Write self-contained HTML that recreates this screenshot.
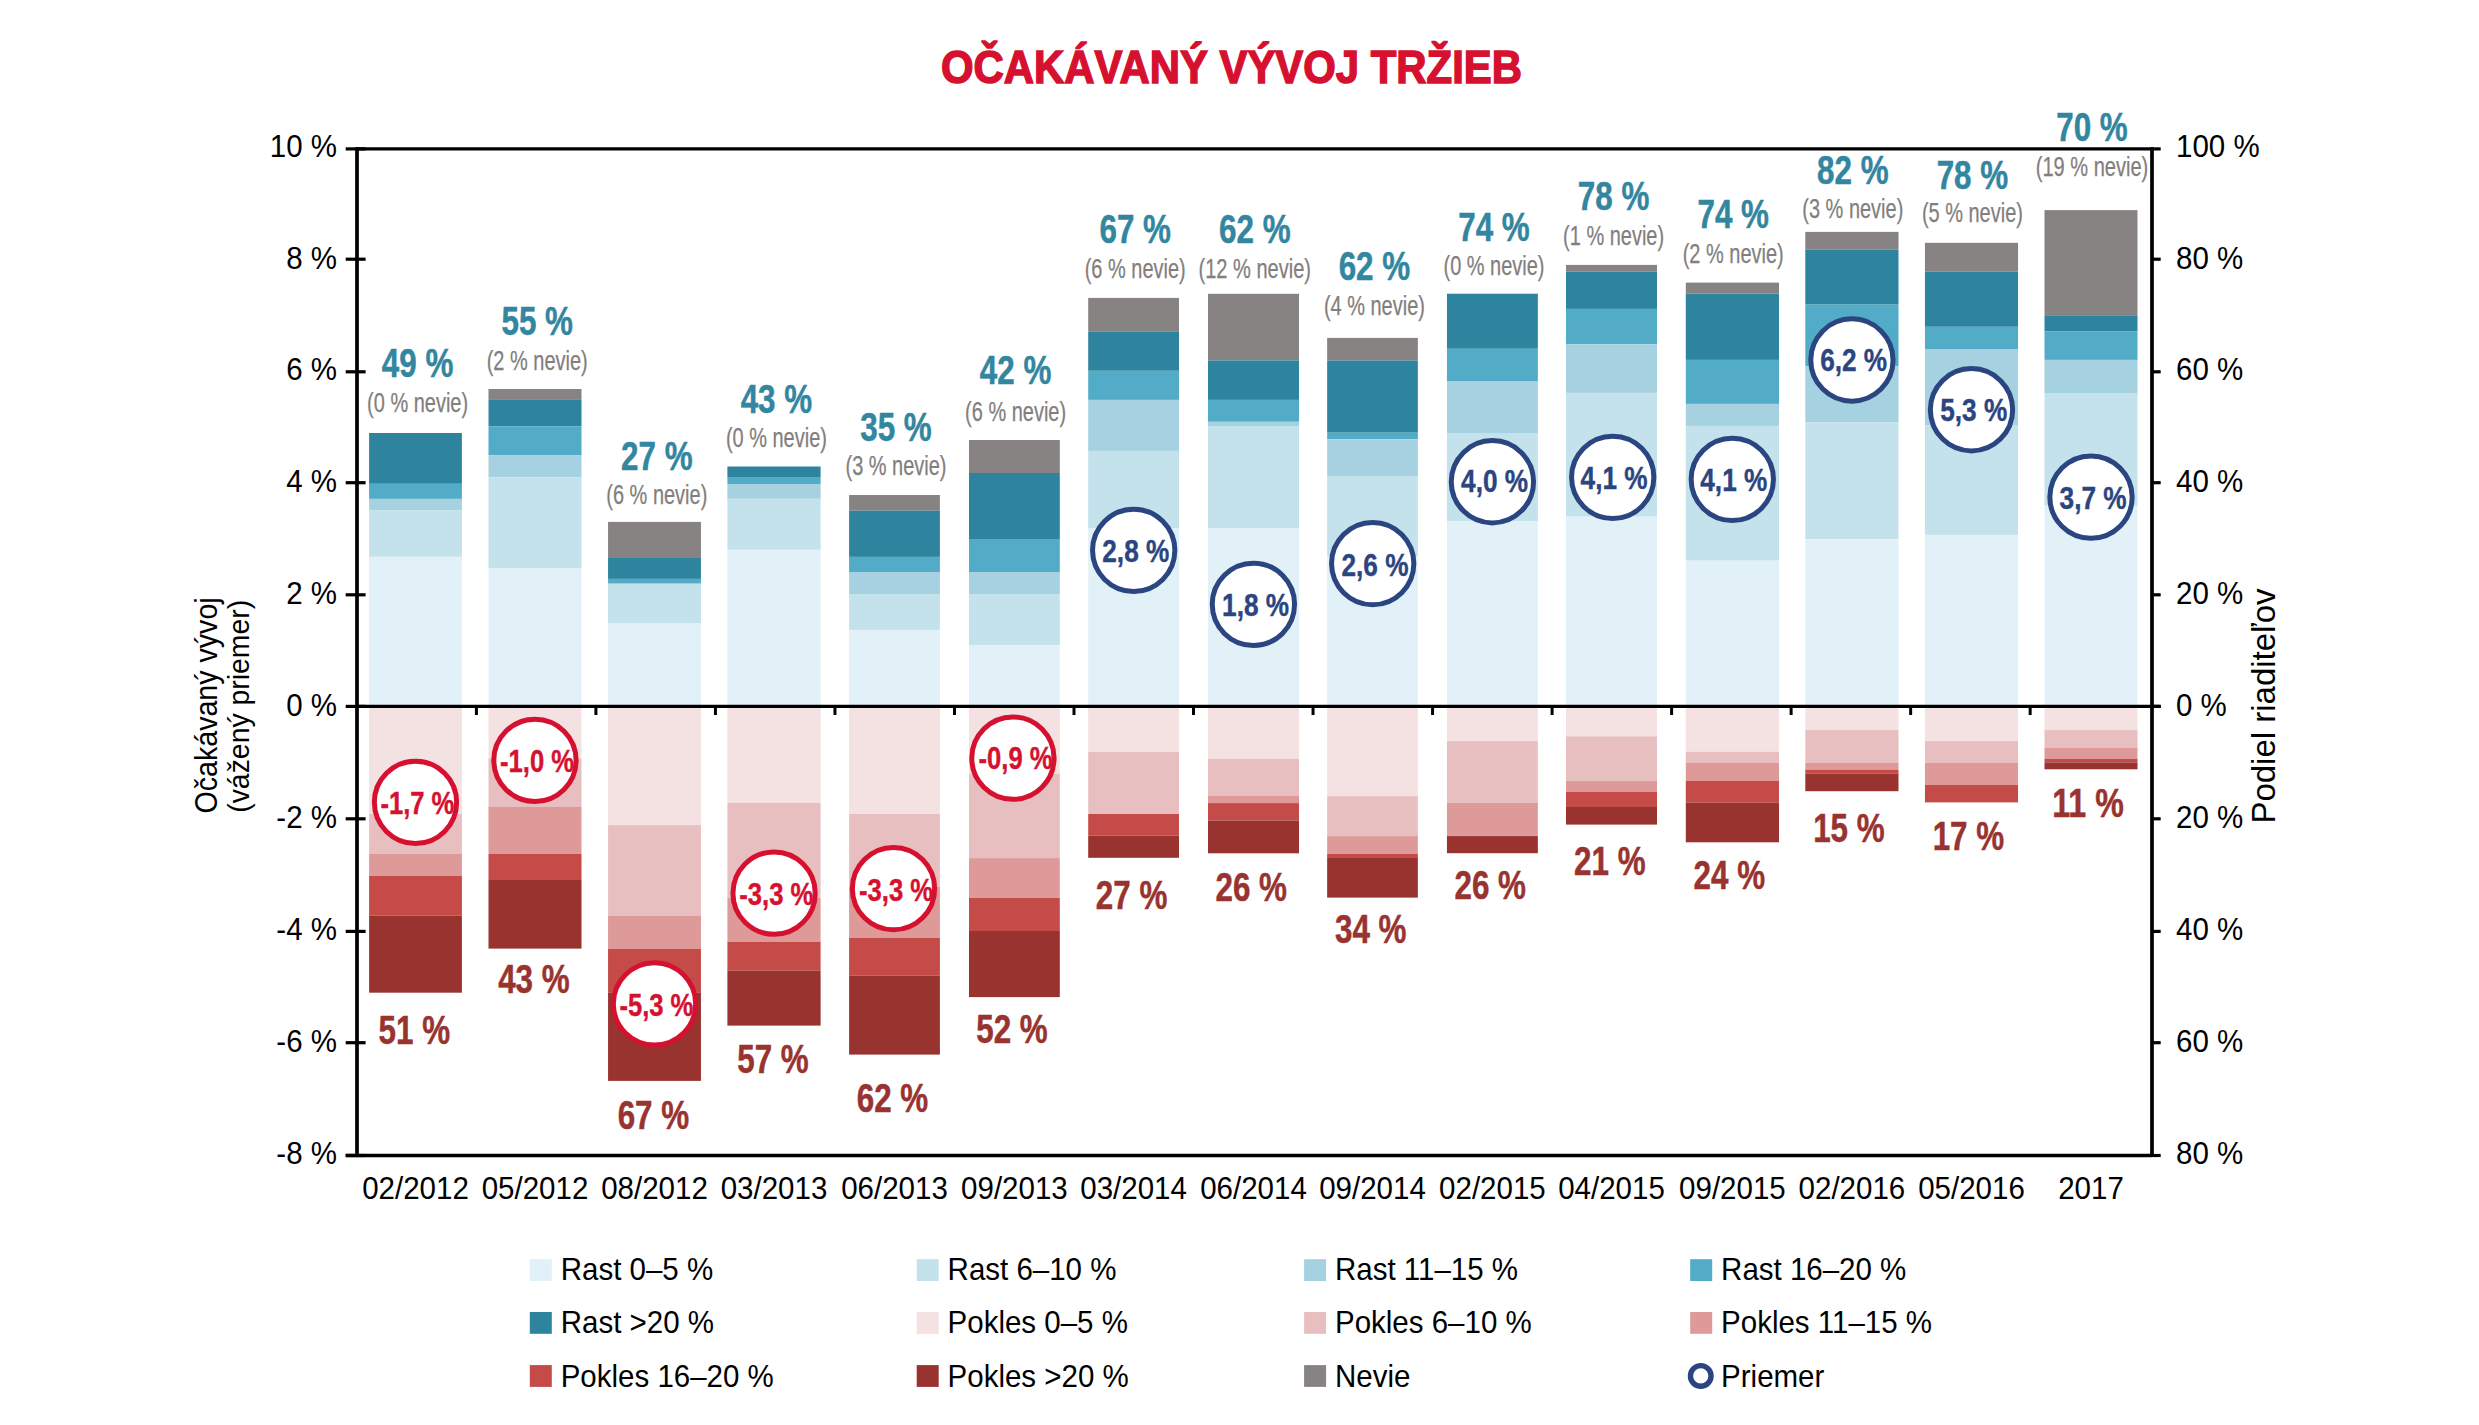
<!DOCTYPE html>
<html><head><meta charset="utf-8"><style>
html,body{margin:0;padding:0;background:#fff;}
body{width:2479px;height:1425px;overflow:hidden;}
svg{display:block;}
text{font-family:"Liberation Sans",sans-serif;}
</style></head><body>
<svg width="2479" height="1425" viewBox="0 0 2479 1425">
<rect width="2479" height="1425" fill="#fff"/>
<rect x="369.10" y="433.00" width="92.80" height="50.80" fill="#2e849e"/>
<rect x="369.10" y="483.80" width="92.80" height="15.10" fill="#52acc8"/>
<rect x="369.10" y="498.90" width="92.80" height="11.20" fill="#a5d1e0"/>
<rect x="369.10" y="510.10" width="92.80" height="46.70" fill="#c4e2eb"/>
<rect x="369.10" y="556.80" width="92.80" height="149.60" fill="#e2f1f8"/>
<rect x="369.10" y="706.40" width="92.80" height="107.40" fill="#f4e1e2"/>
<rect x="369.10" y="813.80" width="92.80" height="40.20" fill="#e8bfc0"/>
<rect x="369.10" y="854.00" width="92.80" height="21.80" fill="#dd9a98"/>
<rect x="369.10" y="875.80" width="92.80" height="39.80" fill="#c44b48"/>
<rect x="369.10" y="915.60" width="92.80" height="77.10" fill="#993330"/>
<rect x="488.50" y="389.00" width="93.00" height="10.90" fill="#878382"/>
<rect x="488.50" y="399.90" width="93.00" height="26.30" fill="#2e849e"/>
<rect x="488.50" y="426.20" width="93.00" height="28.90" fill="#52acc8"/>
<rect x="488.50" y="455.10" width="93.00" height="22.10" fill="#a5d1e0"/>
<rect x="488.50" y="477.20" width="93.00" height="90.80" fill="#c4e2eb"/>
<rect x="488.50" y="568.00" width="93.00" height="138.40" fill="#e2f1f8"/>
<rect x="488.50" y="706.40" width="93.00" height="52.00" fill="#f4e1e2"/>
<rect x="488.50" y="758.40" width="93.00" height="48.60" fill="#e8bfc0"/>
<rect x="488.50" y="807.00" width="93.00" height="47.00" fill="#dd9a98"/>
<rect x="488.50" y="854.00" width="93.00" height="26.00" fill="#c44b48"/>
<rect x="488.50" y="880.00" width="93.00" height="68.60" fill="#993330"/>
<rect x="608.05" y="521.90" width="92.90" height="35.30" fill="#878382"/>
<rect x="608.05" y="557.20" width="92.90" height="21.70" fill="#2e849e"/>
<rect x="608.05" y="578.90" width="92.90" height="4.80" fill="#52acc8"/>
<rect x="608.05" y="583.70" width="92.90" height="39.30" fill="#c4e2eb"/>
<rect x="608.05" y="623.00" width="92.90" height="83.40" fill="#e2f1f8"/>
<rect x="608.05" y="706.40" width="92.90" height="118.70" fill="#f4e1e2"/>
<rect x="608.05" y="825.10" width="92.90" height="90.80" fill="#e8bfc0"/>
<rect x="608.05" y="915.90" width="92.90" height="33.10" fill="#dd9a98"/>
<rect x="608.05" y="949.00" width="92.90" height="43.80" fill="#c44b48"/>
<rect x="608.05" y="992.80" width="92.90" height="88.10" fill="#993330"/>
<rect x="727.40" y="466.50" width="93.20" height="10.50" fill="#2e849e"/>
<rect x="727.40" y="477.00" width="93.20" height="7.00" fill="#52acc8"/>
<rect x="727.40" y="484.00" width="93.20" height="14.80" fill="#a5d1e0"/>
<rect x="727.40" y="498.80" width="93.20" height="51.00" fill="#c4e2eb"/>
<rect x="727.40" y="549.80" width="93.20" height="156.60" fill="#e2f1f8"/>
<rect x="727.40" y="706.40" width="93.20" height="96.50" fill="#f4e1e2"/>
<rect x="727.40" y="802.90" width="93.20" height="94.80" fill="#e8bfc0"/>
<rect x="727.40" y="897.70" width="93.20" height="44.20" fill="#dd9a98"/>
<rect x="727.40" y="941.90" width="93.20" height="28.70" fill="#c44b48"/>
<rect x="727.40" y="970.60" width="93.20" height="55.00" fill="#993330"/>
<rect x="849.10" y="495.00" width="90.80" height="15.70" fill="#878382"/>
<rect x="849.10" y="510.70" width="90.80" height="46.20" fill="#2e849e"/>
<rect x="849.10" y="556.90" width="90.80" height="15.10" fill="#52acc8"/>
<rect x="849.10" y="572.00" width="90.80" height="22.00" fill="#a5d1e0"/>
<rect x="849.10" y="594.00" width="90.80" height="35.90" fill="#c4e2eb"/>
<rect x="849.10" y="629.90" width="90.80" height="76.50" fill="#e2f1f8"/>
<rect x="849.10" y="706.40" width="90.80" height="107.60" fill="#f4e1e2"/>
<rect x="849.10" y="814.00" width="90.80" height="72.90" fill="#e8bfc0"/>
<rect x="849.10" y="886.90" width="90.80" height="50.90" fill="#dd9a98"/>
<rect x="849.10" y="937.80" width="90.80" height="37.70" fill="#c44b48"/>
<rect x="849.10" y="975.50" width="90.80" height="79.10" fill="#993330"/>
<rect x="969.00" y="440.00" width="90.80" height="33.00" fill="#878382"/>
<rect x="969.00" y="473.00" width="90.80" height="66.00" fill="#2e849e"/>
<rect x="969.00" y="539.00" width="90.80" height="33.00" fill="#52acc8"/>
<rect x="969.00" y="572.00" width="90.80" height="22.00" fill="#a5d1e0"/>
<rect x="969.00" y="594.00" width="90.80" height="51.20" fill="#c4e2eb"/>
<rect x="969.00" y="645.20" width="90.80" height="61.20" fill="#e2f1f8"/>
<rect x="969.00" y="706.40" width="90.80" height="67.10" fill="#f4e1e2"/>
<rect x="969.00" y="773.50" width="90.80" height="84.60" fill="#e8bfc0"/>
<rect x="969.00" y="858.10" width="90.80" height="39.90" fill="#dd9a98"/>
<rect x="969.00" y="898.00" width="90.80" height="33.00" fill="#c44b48"/>
<rect x="969.00" y="931.00" width="90.80" height="66.10" fill="#993330"/>
<rect x="1088.20" y="297.90" width="90.80" height="33.50" fill="#878382"/>
<rect x="1088.20" y="331.40" width="90.80" height="39.40" fill="#2e849e"/>
<rect x="1088.20" y="370.80" width="90.80" height="29.10" fill="#52acc8"/>
<rect x="1088.20" y="399.90" width="90.80" height="51.00" fill="#a5d1e0"/>
<rect x="1088.20" y="450.90" width="90.80" height="77.10" fill="#c4e2eb"/>
<rect x="1088.20" y="528.00" width="90.80" height="178.40" fill="#e2f1f8"/>
<rect x="1088.20" y="706.40" width="90.80" height="45.60" fill="#f4e1e2"/>
<rect x="1088.20" y="752.00" width="90.80" height="62.00" fill="#e8bfc0"/>
<rect x="1088.20" y="814.00" width="90.80" height="21.60" fill="#c44b48"/>
<rect x="1088.20" y="835.60" width="90.80" height="22.20" fill="#993330"/>
<rect x="1208.00" y="293.80" width="91.00" height="66.60" fill="#878382"/>
<rect x="1208.00" y="360.40" width="91.00" height="39.50" fill="#2e849e"/>
<rect x="1208.00" y="399.90" width="91.00" height="21.90" fill="#52acc8"/>
<rect x="1208.00" y="421.80" width="91.00" height="4.20" fill="#a5d1e0"/>
<rect x="1208.00" y="426.00" width="91.00" height="102.00" fill="#c4e2eb"/>
<rect x="1208.00" y="528.00" width="91.00" height="178.40" fill="#e2f1f8"/>
<rect x="1208.00" y="706.40" width="91.00" height="52.40" fill="#f4e1e2"/>
<rect x="1208.00" y="758.80" width="91.00" height="37.20" fill="#e8bfc0"/>
<rect x="1208.00" y="796.00" width="91.00" height="7.10" fill="#dd9a98"/>
<rect x="1208.00" y="803.10" width="91.00" height="17.50" fill="#c44b48"/>
<rect x="1208.00" y="820.60" width="91.00" height="32.70" fill="#993330"/>
<rect x="1327.15" y="337.90" width="90.70" height="22.60" fill="#878382"/>
<rect x="1327.15" y="360.50" width="90.70" height="72.20" fill="#2e849e"/>
<rect x="1327.15" y="432.70" width="90.70" height="6.60" fill="#52acc8"/>
<rect x="1327.15" y="439.30" width="90.70" height="37.40" fill="#a5d1e0"/>
<rect x="1327.15" y="476.70" width="90.70" height="79.90" fill="#c4e2eb"/>
<rect x="1327.15" y="556.60" width="90.70" height="149.80" fill="#e2f1f8"/>
<rect x="1327.15" y="706.40" width="90.70" height="89.80" fill="#f4e1e2"/>
<rect x="1327.15" y="796.20" width="90.70" height="39.90" fill="#e8bfc0"/>
<rect x="1327.15" y="836.10" width="90.70" height="17.70" fill="#dd9a98"/>
<rect x="1327.15" y="853.80" width="90.70" height="4.20" fill="#c44b48"/>
<rect x="1327.15" y="858.00" width="90.70" height="39.60" fill="#993330"/>
<rect x="1446.95" y="293.70" width="90.90" height="55.10" fill="#2e849e"/>
<rect x="1446.95" y="348.80" width="90.90" height="32.80" fill="#52acc8"/>
<rect x="1446.95" y="381.60" width="90.90" height="51.40" fill="#a5d1e0"/>
<rect x="1446.95" y="433.00" width="90.90" height="88.20" fill="#c4e2eb"/>
<rect x="1446.95" y="521.20" width="90.90" height="185.20" fill="#e2f1f8"/>
<rect x="1446.95" y="706.40" width="90.90" height="34.70" fill="#f4e1e2"/>
<rect x="1446.95" y="741.10" width="90.90" height="61.70" fill="#e8bfc0"/>
<rect x="1446.95" y="802.80" width="90.90" height="33.30" fill="#dd9a98"/>
<rect x="1446.95" y="836.10" width="90.90" height="17.10" fill="#993330"/>
<rect x="1566.00" y="264.90" width="91.00" height="6.70" fill="#878382"/>
<rect x="1566.00" y="271.60" width="91.00" height="37.30" fill="#2e849e"/>
<rect x="1566.00" y="308.90" width="91.00" height="35.30" fill="#52acc8"/>
<rect x="1566.00" y="344.20" width="91.00" height="48.70" fill="#a5d1e0"/>
<rect x="1566.00" y="392.90" width="91.00" height="123.80" fill="#c4e2eb"/>
<rect x="1566.00" y="516.70" width="91.00" height="189.70" fill="#e2f1f8"/>
<rect x="1566.00" y="706.40" width="91.00" height="29.90" fill="#f4e1e2"/>
<rect x="1566.00" y="736.30" width="91.00" height="44.70" fill="#e8bfc0"/>
<rect x="1566.00" y="781.00" width="91.00" height="10.90" fill="#dd9a98"/>
<rect x="1566.00" y="791.90" width="91.00" height="15.10" fill="#c44b48"/>
<rect x="1566.00" y="807.00" width="91.00" height="17.60" fill="#993330"/>
<rect x="1685.80" y="282.60" width="93.20" height="11.00" fill="#878382"/>
<rect x="1685.80" y="293.60" width="93.20" height="66.30" fill="#2e849e"/>
<rect x="1685.80" y="359.90" width="93.20" height="44.00" fill="#52acc8"/>
<rect x="1685.80" y="403.90" width="93.20" height="22.00" fill="#a5d1e0"/>
<rect x="1685.80" y="425.90" width="93.20" height="134.80" fill="#c4e2eb"/>
<rect x="1685.80" y="560.70" width="93.20" height="145.70" fill="#e2f1f8"/>
<rect x="1685.80" y="706.40" width="93.20" height="45.40" fill="#f4e1e2"/>
<rect x="1685.80" y="751.80" width="93.20" height="11.20" fill="#e8bfc0"/>
<rect x="1685.80" y="763.00" width="93.20" height="17.90" fill="#dd9a98"/>
<rect x="1685.80" y="780.90" width="93.20" height="21.80" fill="#c44b48"/>
<rect x="1685.80" y="802.70" width="93.20" height="39.60" fill="#993330"/>
<rect x="1805.30" y="231.90" width="93.20" height="17.80" fill="#878382"/>
<rect x="1805.30" y="249.70" width="93.20" height="54.90" fill="#2e849e"/>
<rect x="1805.30" y="304.60" width="93.20" height="61.80" fill="#52acc8"/>
<rect x="1805.30" y="366.40" width="93.20" height="55.70" fill="#a5d1e0"/>
<rect x="1805.30" y="422.10" width="93.20" height="117.10" fill="#c4e2eb"/>
<rect x="1805.30" y="539.20" width="93.20" height="167.20" fill="#e2f1f8"/>
<rect x="1805.30" y="706.40" width="93.20" height="23.70" fill="#f4e1e2"/>
<rect x="1805.30" y="730.10" width="93.20" height="32.80" fill="#e8bfc0"/>
<rect x="1805.30" y="762.90" width="93.20" height="6.80" fill="#dd9a98"/>
<rect x="1805.30" y="769.70" width="93.20" height="3.90" fill="#c44b48"/>
<rect x="1805.30" y="773.60" width="93.20" height="17.60" fill="#993330"/>
<rect x="1924.95" y="242.80" width="93.10" height="28.70" fill="#878382"/>
<rect x="1924.95" y="271.50" width="93.10" height="55.30" fill="#2e849e"/>
<rect x="1924.95" y="326.80" width="93.10" height="22.20" fill="#52acc8"/>
<rect x="1924.95" y="349.00" width="93.10" height="76.60" fill="#a5d1e0"/>
<rect x="1924.95" y="425.60" width="93.10" height="109.30" fill="#c4e2eb"/>
<rect x="1924.95" y="534.90" width="93.10" height="171.50" fill="#e2f1f8"/>
<rect x="1924.95" y="706.40" width="93.10" height="34.70" fill="#f4e1e2"/>
<rect x="1924.95" y="741.10" width="93.10" height="21.80" fill="#e8bfc0"/>
<rect x="1924.95" y="762.90" width="93.10" height="22.10" fill="#dd9a98"/>
<rect x="1924.95" y="785.00" width="93.10" height="17.40" fill="#c44b48"/>
<rect x="2044.50" y="210.10" width="93.00" height="105.80" fill="#878382"/>
<rect x="2044.50" y="315.90" width="93.00" height="15.30" fill="#2e849e"/>
<rect x="2044.50" y="331.20" width="93.00" height="28.70" fill="#52acc8"/>
<rect x="2044.50" y="359.90" width="93.00" height="33.10" fill="#a5d1e0"/>
<rect x="2044.50" y="393.00" width="93.00" height="112.70" fill="#c4e2eb"/>
<rect x="2044.50" y="505.70" width="93.00" height="200.70" fill="#e2f1f8"/>
<rect x="2044.50" y="706.40" width="93.00" height="23.70" fill="#f4e1e2"/>
<rect x="2044.50" y="730.10" width="93.00" height="17.50" fill="#e8bfc0"/>
<rect x="2044.50" y="747.60" width="93.00" height="11.10" fill="#dd9a98"/>
<rect x="2044.50" y="758.70" width="93.00" height="3.70" fill="#c44b48"/>
<rect x="2044.50" y="762.40" width="93.00" height="6.90" fill="#993330"/>
<line x1="357" y1="148.9" x2="2152" y2="148.9" stroke="#000" stroke-width="3.4"/>
<line x1="345.7" y1="1155.5" x2="2152" y2="1155.5" stroke="#000" stroke-width="3.4"/>
<line x1="357" y1="147.2" x2="357" y2="1157" stroke="#000" stroke-width="3.7"/>
<line x1="2152" y1="147.2" x2="2152" y2="1157" stroke="#000" stroke-width="3.7"/>
<line x1="357" y1="706.4" x2="2160.7" y2="706.4" stroke="#000" stroke-width="3.1"/>
<line x1="476.40" y1="706.4" x2="476.40" y2="715" stroke="#000" stroke-width="3"/>
<line x1="595.92" y1="706.4" x2="595.92" y2="715" stroke="#000" stroke-width="3"/>
<line x1="715.44" y1="706.4" x2="715.44" y2="715" stroke="#000" stroke-width="3"/>
<line x1="834.96" y1="706.4" x2="834.96" y2="715" stroke="#000" stroke-width="3"/>
<line x1="954.48" y1="706.4" x2="954.48" y2="715" stroke="#000" stroke-width="3"/>
<line x1="1074.00" y1="706.4" x2="1074.00" y2="715" stroke="#000" stroke-width="3"/>
<line x1="1193.52" y1="706.4" x2="1193.52" y2="715" stroke="#000" stroke-width="3"/>
<line x1="1313.04" y1="706.4" x2="1313.04" y2="715" stroke="#000" stroke-width="3"/>
<line x1="1432.56" y1="706.4" x2="1432.56" y2="715" stroke="#000" stroke-width="3"/>
<line x1="1552.08" y1="706.4" x2="1552.08" y2="715" stroke="#000" stroke-width="3"/>
<line x1="1671.60" y1="706.4" x2="1671.60" y2="715" stroke="#000" stroke-width="3"/>
<line x1="1791.12" y1="706.4" x2="1791.12" y2="715" stroke="#000" stroke-width="3"/>
<line x1="1910.64" y1="706.4" x2="1910.64" y2="715" stroke="#000" stroke-width="3"/>
<line x1="2030.16" y1="706.4" x2="2030.16" y2="715" stroke="#000" stroke-width="3"/>
<line x1="345.7" y1="148.9" x2="365.6" y2="148.9" stroke="#000" stroke-width="3.2"/>
<line x1="2152" y1="148.9" x2="2160.7" y2="148.9" stroke="#000" stroke-width="3.2"/>
<line x1="345.7" y1="259.2" x2="365.6" y2="259.2" stroke="#000" stroke-width="3.2"/>
<line x1="2152" y1="259.2" x2="2160.7" y2="259.2" stroke="#000" stroke-width="3.2"/>
<line x1="345.7" y1="371.8" x2="365.6" y2="371.8" stroke="#000" stroke-width="3.2"/>
<line x1="2152" y1="371.8" x2="2160.7" y2="371.8" stroke="#000" stroke-width="3.2"/>
<line x1="345.7" y1="482.7" x2="365.6" y2="482.7" stroke="#000" stroke-width="3.2"/>
<line x1="2152" y1="482.7" x2="2160.7" y2="482.7" stroke="#000" stroke-width="3.2"/>
<line x1="345.7" y1="594.8" x2="365.6" y2="594.8" stroke="#000" stroke-width="3.2"/>
<line x1="2152" y1="594.8" x2="2160.7" y2="594.8" stroke="#000" stroke-width="3.2"/>
<line x1="345.7" y1="706.4" x2="365.6" y2="706.4" stroke="#000" stroke-width="3.2"/>
<line x1="2152" y1="706.4" x2="2160.7" y2="706.4" stroke="#000" stroke-width="3.2"/>
<line x1="345.7" y1="818.8" x2="365.6" y2="818.8" stroke="#000" stroke-width="3.2"/>
<line x1="2152" y1="818.8" x2="2160.7" y2="818.8" stroke="#000" stroke-width="3.2"/>
<line x1="345.7" y1="931.4" x2="365.6" y2="931.4" stroke="#000" stroke-width="3.2"/>
<line x1="2152" y1="931.4" x2="2160.7" y2="931.4" stroke="#000" stroke-width="3.2"/>
<line x1="345.7" y1="1042.7" x2="365.6" y2="1042.7" stroke="#000" stroke-width="3.2"/>
<line x1="2152" y1="1042.7" x2="2160.7" y2="1042.7" stroke="#000" stroke-width="3.2"/>
<line x1="345.7" y1="1155.5" x2="365.6" y2="1155.5" stroke="#000" stroke-width="3.2"/>
<line x1="2152" y1="1155.5" x2="2160.7" y2="1155.5" stroke="#000" stroke-width="3.2"/>
<text transform="translate(337.00,156.60) scale(1,1.05)" font-family="Liberation Sans, sans-serif" font-size="29.5" text-anchor="end" >10 %</text>
<text transform="translate(2176.00,156.60) scale(1,1.05)" font-family="Liberation Sans, sans-serif" font-size="29.5" text-anchor="start" >100 %</text>
<text transform="translate(337.00,268.50) scale(1,1.05)" font-family="Liberation Sans, sans-serif" font-size="29.5" text-anchor="end" >8 %</text>
<text transform="translate(2176.00,268.50) scale(1,1.05)" font-family="Liberation Sans, sans-serif" font-size="29.5" text-anchor="start" >80 %</text>
<text transform="translate(337.00,380.40) scale(1,1.05)" font-family="Liberation Sans, sans-serif" font-size="29.5" text-anchor="end" >6 %</text>
<text transform="translate(2176.00,380.40) scale(1,1.05)" font-family="Liberation Sans, sans-serif" font-size="29.5" text-anchor="start" >60 %</text>
<text transform="translate(337.00,492.30) scale(1,1.05)" font-family="Liberation Sans, sans-serif" font-size="29.5" text-anchor="end" >4 %</text>
<text transform="translate(2176.00,492.30) scale(1,1.05)" font-family="Liberation Sans, sans-serif" font-size="29.5" text-anchor="start" >40 %</text>
<text transform="translate(337.00,604.20) scale(1,1.05)" font-family="Liberation Sans, sans-serif" font-size="29.5" text-anchor="end" >2 %</text>
<text transform="translate(2176.00,604.20) scale(1,1.05)" font-family="Liberation Sans, sans-serif" font-size="29.5" text-anchor="start" >20 %</text>
<text transform="translate(337.00,716.10) scale(1,1.05)" font-family="Liberation Sans, sans-serif" font-size="29.5" text-anchor="end" >0 %</text>
<text transform="translate(2176.00,716.10) scale(1,1.05)" font-family="Liberation Sans, sans-serif" font-size="29.5" text-anchor="start" >0 %</text>
<text transform="translate(337.00,828.00) scale(1,1.05)" font-family="Liberation Sans, sans-serif" font-size="29.5" text-anchor="end" >-2 %</text>
<text transform="translate(2176.00,828.00) scale(1,1.05)" font-family="Liberation Sans, sans-serif" font-size="29.5" text-anchor="start" >20 %</text>
<text transform="translate(337.00,939.90) scale(1,1.05)" font-family="Liberation Sans, sans-serif" font-size="29.5" text-anchor="end" >-4 %</text>
<text transform="translate(2176.00,939.90) scale(1,1.05)" font-family="Liberation Sans, sans-serif" font-size="29.5" text-anchor="start" >40 %</text>
<text transform="translate(337.00,1051.80) scale(1,1.05)" font-family="Liberation Sans, sans-serif" font-size="29.5" text-anchor="end" >-6 %</text>
<text transform="translate(2176.00,1051.80) scale(1,1.05)" font-family="Liberation Sans, sans-serif" font-size="29.5" text-anchor="start" >60 %</text>
<text transform="translate(337.00,1163.70) scale(1,1.05)" font-family="Liberation Sans, sans-serif" font-size="29.5" text-anchor="end" >-8 %</text>
<text transform="translate(2176.00,1163.70) scale(1,1.05)" font-family="Liberation Sans, sans-serif" font-size="29.5" text-anchor="start" >80 %</text>
<text transform="translate(415.50,1198.70) scale(1,1.05)" font-family="Liberation Sans, sans-serif" font-size="29.5" text-anchor="middle" >02/2012</text>
<text transform="translate(535.00,1198.70) scale(1,1.05)" font-family="Liberation Sans, sans-serif" font-size="29.5" text-anchor="middle" >05/2012</text>
<text transform="translate(654.50,1198.70) scale(1,1.05)" font-family="Liberation Sans, sans-serif" font-size="29.5" text-anchor="middle" >08/2012</text>
<text transform="translate(774.00,1198.70) scale(1,1.05)" font-family="Liberation Sans, sans-serif" font-size="29.5" text-anchor="middle" >03/2013</text>
<text transform="translate(894.50,1198.70) scale(1,1.05)" font-family="Liberation Sans, sans-serif" font-size="29.5" text-anchor="middle" >06/2013</text>
<text transform="translate(1014.40,1198.70) scale(1,1.05)" font-family="Liberation Sans, sans-serif" font-size="29.5" text-anchor="middle" >09/2013</text>
<text transform="translate(1133.60,1198.70) scale(1,1.05)" font-family="Liberation Sans, sans-serif" font-size="29.5" text-anchor="middle" >03/2014</text>
<text transform="translate(1253.50,1198.70) scale(1,1.05)" font-family="Liberation Sans, sans-serif" font-size="29.5" text-anchor="middle" >06/2014</text>
<text transform="translate(1372.50,1198.70) scale(1,1.05)" font-family="Liberation Sans, sans-serif" font-size="29.5" text-anchor="middle" >09/2014</text>
<text transform="translate(1492.40,1198.70) scale(1,1.05)" font-family="Liberation Sans, sans-serif" font-size="29.5" text-anchor="middle" >02/2015</text>
<text transform="translate(1611.50,1198.70) scale(1,1.05)" font-family="Liberation Sans, sans-serif" font-size="29.5" text-anchor="middle" >04/2015</text>
<text transform="translate(1732.40,1198.70) scale(1,1.05)" font-family="Liberation Sans, sans-serif" font-size="29.5" text-anchor="middle" >09/2015</text>
<text transform="translate(1851.90,1198.70) scale(1,1.05)" font-family="Liberation Sans, sans-serif" font-size="29.5" text-anchor="middle" >02/2016</text>
<text transform="translate(1971.50,1198.70) scale(1,1.05)" font-family="Liberation Sans, sans-serif" font-size="29.5" text-anchor="middle" >05/2016</text>
<text transform="translate(2091.00,1198.70) scale(1,1.05)" font-family="Liberation Sans, sans-serif" font-size="29.5" text-anchor="middle" >2017</text>
<text transform="translate(217.1,705.4) rotate(-90) scale(1,1.07)" font-family="Liberation Sans, sans-serif" font-size="28.6" text-anchor="middle">Očakávaný vývoj</text>
<text transform="translate(248.8,706.3) rotate(-90) scale(1,1.07)" font-family="Liberation Sans, sans-serif" font-size="28.4" text-anchor="middle">(vážený priemer)</text>
<text transform="translate(2275,706) rotate(-90) scale(1,1.03)" font-family="Liberation Sans, sans-serif" font-size="33" text-anchor="middle">Podiel riaditeľov</text>
<text x="1231.5" y="82.7" font-family="Liberation Sans, sans-serif" font-weight="bold" font-size="46" fill="#d61130" stroke="#d61130" stroke-width="1.5" text-anchor="middle" textLength="581" lengthAdjust="spacingAndGlyphs">OČAKÁVANÝ VÝVOJ TRŽIEB</text>
<text x="417.6" y="376.8" font-family="Liberation Sans, sans-serif" font-weight="bold" font-size="40" fill="#3286a0" stroke="#3286a0" stroke-width="0.5" text-anchor="middle" textLength="71.5" lengthAdjust="spacingAndGlyphs">49 %</text>
<text x="417.6" y="411.5" font-family="Liberation Sans, sans-serif" font-size="28" fill="#827e7d" stroke="#827e7d" stroke-width="0.25" text-anchor="middle" textLength="101" lengthAdjust="spacingAndGlyphs">(0 % nevie)</text>
<text x="414.3" y="1043.5" font-family="Liberation Sans, sans-serif" font-weight="bold" font-size="40" fill="#993330" stroke="#993330" stroke-width="0.5" text-anchor="middle" textLength="71.5" lengthAdjust="spacingAndGlyphs">51 %</text>
<text x="537.2" y="335.1" font-family="Liberation Sans, sans-serif" font-weight="bold" font-size="40" fill="#3286a0" stroke="#3286a0" stroke-width="0.5" text-anchor="middle" textLength="71.5" lengthAdjust="spacingAndGlyphs">55 %</text>
<text x="537.2" y="369.9" font-family="Liberation Sans, sans-serif" font-size="28" fill="#827e7d" stroke="#827e7d" stroke-width="0.25" text-anchor="middle" textLength="101" lengthAdjust="spacingAndGlyphs">(2 % nevie)</text>
<text x="533.9" y="993.4" font-family="Liberation Sans, sans-serif" font-weight="bold" font-size="40" fill="#993330" stroke="#993330" stroke-width="0.5" text-anchor="middle" textLength="71.5" lengthAdjust="spacingAndGlyphs">43 %</text>
<text x="656.8" y="470.2" font-family="Liberation Sans, sans-serif" font-weight="bold" font-size="40" fill="#3286a0" stroke="#3286a0" stroke-width="0.5" text-anchor="middle" textLength="71.5" lengthAdjust="spacingAndGlyphs">27 %</text>
<text x="656.8" y="504.2" font-family="Liberation Sans, sans-serif" font-size="28" fill="#827e7d" stroke="#827e7d" stroke-width="0.25" text-anchor="middle" textLength="101" lengthAdjust="spacingAndGlyphs">(6 % nevie)</text>
<text x="653.4" y="1128.5" font-family="Liberation Sans, sans-serif" font-weight="bold" font-size="40" fill="#993330" stroke="#993330" stroke-width="0.5" text-anchor="middle" textLength="71.5" lengthAdjust="spacingAndGlyphs">67 %</text>
<text x="776.4" y="412.9" font-family="Liberation Sans, sans-serif" font-weight="bold" font-size="40" fill="#3286a0" stroke="#3286a0" stroke-width="0.5" text-anchor="middle" textLength="71.5" lengthAdjust="spacingAndGlyphs">43 %</text>
<text x="776.4" y="447.4" font-family="Liberation Sans, sans-serif" font-size="28" fill="#827e7d" stroke="#827e7d" stroke-width="0.25" text-anchor="middle" textLength="101" lengthAdjust="spacingAndGlyphs">(0 % nevie)</text>
<text x="773.0" y="1073.4" font-family="Liberation Sans, sans-serif" font-weight="bold" font-size="40" fill="#993330" stroke="#993330" stroke-width="0.5" text-anchor="middle" textLength="71.5" lengthAdjust="spacingAndGlyphs">57 %</text>
<text x="896.0" y="440.5" font-family="Liberation Sans, sans-serif" font-weight="bold" font-size="40" fill="#3286a0" stroke="#3286a0" stroke-width="0.5" text-anchor="middle" textLength="71.5" lengthAdjust="spacingAndGlyphs">35 %</text>
<text x="896.0" y="475.2" font-family="Liberation Sans, sans-serif" font-size="28" fill="#827e7d" stroke="#827e7d" stroke-width="0.25" text-anchor="middle" textLength="101" lengthAdjust="spacingAndGlyphs">(3 % nevie)</text>
<text x="892.5" y="1112.2" font-family="Liberation Sans, sans-serif" font-weight="bold" font-size="40" fill="#993330" stroke="#993330" stroke-width="0.5" text-anchor="middle" textLength="71.5" lengthAdjust="spacingAndGlyphs">62 %</text>
<text x="1015.6" y="384.2" font-family="Liberation Sans, sans-serif" font-weight="bold" font-size="40" fill="#3286a0" stroke="#3286a0" stroke-width="0.5" text-anchor="middle" textLength="71.5" lengthAdjust="spacingAndGlyphs">42 %</text>
<text x="1015.6" y="420.5" font-family="Liberation Sans, sans-serif" font-size="28" fill="#827e7d" stroke="#827e7d" stroke-width="0.25" text-anchor="middle" textLength="101" lengthAdjust="spacingAndGlyphs">(6 % nevie)</text>
<text x="1012.0" y="1042.9" font-family="Liberation Sans, sans-serif" font-weight="bold" font-size="40" fill="#993330" stroke="#993330" stroke-width="0.5" text-anchor="middle" textLength="71.5" lengthAdjust="spacingAndGlyphs">52 %</text>
<text x="1135.2" y="242.9" font-family="Liberation Sans, sans-serif" font-weight="bold" font-size="40" fill="#3286a0" stroke="#3286a0" stroke-width="0.5" text-anchor="middle" textLength="71.5" lengthAdjust="spacingAndGlyphs">67 %</text>
<text x="1135.2" y="277.8" font-family="Liberation Sans, sans-serif" font-size="28" fill="#827e7d" stroke="#827e7d" stroke-width="0.25" text-anchor="middle" textLength="101" lengthAdjust="spacingAndGlyphs">(6 % nevie)</text>
<text x="1131.6" y="909.4" font-family="Liberation Sans, sans-serif" font-weight="bold" font-size="40" fill="#993330" stroke="#993330" stroke-width="0.5" text-anchor="middle" textLength="71.5" lengthAdjust="spacingAndGlyphs">27 %</text>
<text x="1254.8" y="242.9" font-family="Liberation Sans, sans-serif" font-weight="bold" font-size="40" fill="#3286a0" stroke="#3286a0" stroke-width="0.5" text-anchor="middle" textLength="71.5" lengthAdjust="spacingAndGlyphs">62 %</text>
<text x="1254.8" y="277.8" font-family="Liberation Sans, sans-serif" font-size="28" fill="#827e7d" stroke="#827e7d" stroke-width="0.25" text-anchor="middle" textLength="112.5" lengthAdjust="spacingAndGlyphs">(12 % nevie)</text>
<text x="1251.2" y="901.4" font-family="Liberation Sans, sans-serif" font-weight="bold" font-size="40" fill="#993330" stroke="#993330" stroke-width="0.5" text-anchor="middle" textLength="71.5" lengthAdjust="spacingAndGlyphs">26 %</text>
<text x="1374.4" y="280" font-family="Liberation Sans, sans-serif" font-weight="bold" font-size="40" fill="#3286a0" stroke="#3286a0" stroke-width="0.5" text-anchor="middle" textLength="71.5" lengthAdjust="spacingAndGlyphs">62 %</text>
<text x="1374.4" y="314.8" font-family="Liberation Sans, sans-serif" font-size="28" fill="#827e7d" stroke="#827e7d" stroke-width="0.25" text-anchor="middle" textLength="101" lengthAdjust="spacingAndGlyphs">(4 % nevie)</text>
<text x="1370.7" y="942.5" font-family="Liberation Sans, sans-serif" font-weight="bold" font-size="40" fill="#993330" stroke="#993330" stroke-width="0.5" text-anchor="middle" textLength="71.5" lengthAdjust="spacingAndGlyphs">34 %</text>
<text x="1494.0" y="241.2" font-family="Liberation Sans, sans-serif" font-weight="bold" font-size="40" fill="#3286a0" stroke="#3286a0" stroke-width="0.5" text-anchor="middle" textLength="71.5" lengthAdjust="spacingAndGlyphs">74 %</text>
<text x="1494.0" y="275.4" font-family="Liberation Sans, sans-serif" font-size="28" fill="#827e7d" stroke="#827e7d" stroke-width="0.25" text-anchor="middle" textLength="101" lengthAdjust="spacingAndGlyphs">(0 % nevie)</text>
<text x="1490.2" y="898.8" font-family="Liberation Sans, sans-serif" font-weight="bold" font-size="40" fill="#993330" stroke="#993330" stroke-width="0.5" text-anchor="middle" textLength="71.5" lengthAdjust="spacingAndGlyphs">26 %</text>
<text x="1613.6" y="210.3" font-family="Liberation Sans, sans-serif" font-weight="bold" font-size="40" fill="#3286a0" stroke="#3286a0" stroke-width="0.5" text-anchor="middle" textLength="71.5" lengthAdjust="spacingAndGlyphs">78 %</text>
<text x="1613.6" y="244.6" font-family="Liberation Sans, sans-serif" font-size="28" fill="#827e7d" stroke="#827e7d" stroke-width="0.25" text-anchor="middle" textLength="101" lengthAdjust="spacingAndGlyphs">(1 % nevie)</text>
<text x="1609.8" y="875.1" font-family="Liberation Sans, sans-serif" font-weight="bold" font-size="40" fill="#993330" stroke="#993330" stroke-width="0.5" text-anchor="middle" textLength="71.5" lengthAdjust="spacingAndGlyphs">21 %</text>
<text x="1733.2" y="228.2" font-family="Liberation Sans, sans-serif" font-weight="bold" font-size="40" fill="#3286a0" stroke="#3286a0" stroke-width="0.5" text-anchor="middle" textLength="71.5" lengthAdjust="spacingAndGlyphs">74 %</text>
<text x="1733.2" y="262.6" font-family="Liberation Sans, sans-serif" font-size="28" fill="#827e7d" stroke="#827e7d" stroke-width="0.25" text-anchor="middle" textLength="101" lengthAdjust="spacingAndGlyphs">(2 % nevie)</text>
<text x="1729.3" y="888.9" font-family="Liberation Sans, sans-serif" font-weight="bold" font-size="40" fill="#993330" stroke="#993330" stroke-width="0.5" text-anchor="middle" textLength="71.5" lengthAdjust="spacingAndGlyphs">24 %</text>
<text x="1852.8" y="184.1" font-family="Liberation Sans, sans-serif" font-weight="bold" font-size="40" fill="#3286a0" stroke="#3286a0" stroke-width="0.5" text-anchor="middle" textLength="71.5" lengthAdjust="spacingAndGlyphs">82 %</text>
<text x="1852.8" y="218.3" font-family="Liberation Sans, sans-serif" font-size="28" fill="#827e7d" stroke="#827e7d" stroke-width="0.25" text-anchor="middle" textLength="101" lengthAdjust="spacingAndGlyphs">(3 % nevie)</text>
<text x="1848.9" y="842.2" font-family="Liberation Sans, sans-serif" font-weight="bold" font-size="40" fill="#993330" stroke="#993330" stroke-width="0.5" text-anchor="middle" textLength="71.5" lengthAdjust="spacingAndGlyphs">15 %</text>
<text x="1972.4" y="188.5" font-family="Liberation Sans, sans-serif" font-weight="bold" font-size="40" fill="#3286a0" stroke="#3286a0" stroke-width="0.5" text-anchor="middle" textLength="71.5" lengthAdjust="spacingAndGlyphs">78 %</text>
<text x="1972.4" y="221.9" font-family="Liberation Sans, sans-serif" font-size="28" fill="#827e7d" stroke="#827e7d" stroke-width="0.25" text-anchor="middle" textLength="101" lengthAdjust="spacingAndGlyphs">(5 % nevie)</text>
<text x="1968.4" y="850.4" font-family="Liberation Sans, sans-serif" font-weight="bold" font-size="40" fill="#993330" stroke="#993330" stroke-width="0.5" text-anchor="middle" textLength="71.5" lengthAdjust="spacingAndGlyphs">17 %</text>
<text x="2092.0" y="141" font-family="Liberation Sans, sans-serif" font-weight="bold" font-size="40" fill="#3286a0" stroke="#3286a0" stroke-width="0.5" text-anchor="middle" textLength="71.5" lengthAdjust="spacingAndGlyphs">70 %</text>
<text x="2092.0" y="175.9" font-family="Liberation Sans, sans-serif" font-size="28" fill="#827e7d" stroke="#827e7d" stroke-width="0.25" text-anchor="middle" textLength="112.5" lengthAdjust="spacingAndGlyphs">(19 % nevie)</text>
<text x="2088.0" y="817" font-family="Liberation Sans, sans-serif" font-weight="bold" font-size="40" fill="#993330" stroke="#993330" stroke-width="0.5" text-anchor="middle" textLength="71.5" lengthAdjust="spacingAndGlyphs">11 %</text>
<circle cx="1133.7" cy="550.3" r="41.15" fill="#fff" stroke="#2b4580" stroke-width="5"/>
<text x="1135.80" y="562.10" font-family="Liberation Sans, sans-serif" font-weight="bold" font-size="31" fill="#2b4580" stroke="#2b4580" stroke-width="0.4" text-anchor="middle" textLength="67" lengthAdjust="spacingAndGlyphs">2,8 %</text>
<circle cx="1253.4" cy="604.3" r="41.15" fill="#fff" stroke="#2b4580" stroke-width="5"/>
<text x="1255.60" y="616.10" font-family="Liberation Sans, sans-serif" font-weight="bold" font-size="31" fill="#2b4580" stroke="#2b4580" stroke-width="0.4" text-anchor="middle" textLength="67" lengthAdjust="spacingAndGlyphs">1,8 %</text>
<circle cx="1372.7" cy="563.55" r="41.15" fill="#fff" stroke="#2b4580" stroke-width="5"/>
<text x="1375.00" y="575.80" font-family="Liberation Sans, sans-serif" font-weight="bold" font-size="31" fill="#2b4580" stroke="#2b4580" stroke-width="0.4" text-anchor="middle" textLength="67" lengthAdjust="spacingAndGlyphs">2,6 %</text>
<circle cx="1492.4" cy="481.75" r="41.15" fill="#fff" stroke="#2b4580" stroke-width="5"/>
<text x="1494.60" y="492.00" font-family="Liberation Sans, sans-serif" font-weight="bold" font-size="31" fill="#2b4580" stroke="#2b4580" stroke-width="0.4" text-anchor="middle" textLength="67" lengthAdjust="spacingAndGlyphs">4,0 %</text>
<circle cx="1612.7" cy="477.35" r="41.15" fill="#fff" stroke="#2b4580" stroke-width="5"/>
<text x="1614.10" y="489.10" font-family="Liberation Sans, sans-serif" font-weight="bold" font-size="31" fill="#2b4580" stroke="#2b4580" stroke-width="0.4" text-anchor="middle" textLength="67" lengthAdjust="spacingAndGlyphs">4,1 %</text>
<circle cx="1732.3" cy="479.35" r="41.15" fill="#fff" stroke="#2b4580" stroke-width="5"/>
<text x="1733.80" y="491.10" font-family="Liberation Sans, sans-serif" font-weight="bold" font-size="31" fill="#2b4580" stroke="#2b4580" stroke-width="0.4" text-anchor="middle" textLength="67" lengthAdjust="spacingAndGlyphs">4,1 %</text>
<circle cx="1851.9" cy="360" r="41.15" fill="#fff" stroke="#2b4580" stroke-width="5"/>
<text x="1853.65" y="370.70" font-family="Liberation Sans, sans-serif" font-weight="bold" font-size="31" fill="#2b4580" stroke="#2b4580" stroke-width="0.4" text-anchor="middle" textLength="67" lengthAdjust="spacingAndGlyphs">6,2 %</text>
<circle cx="1971.5" cy="409.75" r="41.15" fill="#fff" stroke="#2b4580" stroke-width="5"/>
<text x="1973.75" y="420.70" font-family="Liberation Sans, sans-serif" font-weight="bold" font-size="31" fill="#2b4580" stroke="#2b4580" stroke-width="0.4" text-anchor="middle" textLength="67" lengthAdjust="spacingAndGlyphs">5,3 %</text>
<circle cx="2091" cy="497.1" r="41.15" fill="#fff" stroke="#2b4580" stroke-width="5"/>
<text x="2093.10" y="508.75" font-family="Liberation Sans, sans-serif" font-weight="bold" font-size="31" fill="#2b4580" stroke="#2b4580" stroke-width="0.4" text-anchor="middle" textLength="67" lengthAdjust="spacingAndGlyphs">3,7 %</text>
<circle cx="415.5" cy="802.35" r="41.15" fill="#fff" stroke="#d61130" stroke-width="5"/>
<text x="417.40" y="814.10" font-family="Liberation Sans, sans-serif" font-weight="bold" font-size="31" fill="#d61130" stroke="#d61130" stroke-width="0.4" text-anchor="middle" textLength="74" lengthAdjust="spacingAndGlyphs">-1,7 %</text>
<circle cx="534.95" cy="760.35" r="41.15" fill="#fff" stroke="#d61130" stroke-width="5"/>
<text x="537.05" y="772.10" font-family="Liberation Sans, sans-serif" font-weight="bold" font-size="31" fill="#d61130" stroke="#d61130" stroke-width="0.4" text-anchor="middle" textLength="74" lengthAdjust="spacingAndGlyphs">-1,0 %</text>
<circle cx="654.5" cy="1003.9" r="41.15" fill="#fff" stroke="#d61130" stroke-width="5"/>
<text x="656.40" y="1015.90" font-family="Liberation Sans, sans-serif" font-weight="bold" font-size="31" fill="#d61130" stroke="#d61130" stroke-width="0.4" text-anchor="middle" textLength="74" lengthAdjust="spacingAndGlyphs">-5,3 %</text>
<circle cx="774.1" cy="893.15" r="41.15" fill="#fff" stroke="#d61130" stroke-width="5"/>
<text x="776.25" y="905.05" font-family="Liberation Sans, sans-serif" font-weight="bold" font-size="31" fill="#d61130" stroke="#d61130" stroke-width="0.4" text-anchor="middle" textLength="74" lengthAdjust="spacingAndGlyphs">-3,3 %</text>
<circle cx="893.5" cy="888.7" r="41.15" fill="#fff" stroke="#d61130" stroke-width="5"/>
<text x="896.00" y="900.80" font-family="Liberation Sans, sans-serif" font-weight="bold" font-size="31" fill="#d61130" stroke="#d61130" stroke-width="0.4" text-anchor="middle" textLength="74" lengthAdjust="spacingAndGlyphs">-3,3 %</text>
<circle cx="1012.9" cy="758.1" r="41.15" fill="#fff" stroke="#d61130" stroke-width="5"/>
<text x="1015.50" y="769.05" font-family="Liberation Sans, sans-serif" font-weight="bold" font-size="31" fill="#d61130" stroke="#d61130" stroke-width="0.4" text-anchor="middle" textLength="74" lengthAdjust="spacingAndGlyphs">-0,9 %</text>
<rect x="529.8" y="1259.2" width="22" height="21.8" fill="#e2f1f8"/>
<text transform="translate(560.70,1280.30) scale(1,1.05)" font-family="Liberation Sans, sans-serif" font-size="29.5" text-anchor="start" >Rast 0–5 %</text>
<rect x="916.7" y="1259.2" width="22" height="21.8" fill="#c4e2eb"/>
<text transform="translate(947.60,1280.30) scale(1,1.05)" font-family="Liberation Sans, sans-serif" font-size="29.5" text-anchor="start" >Rast 6–10 %</text>
<rect x="1304.1" y="1259.2" width="22" height="21.8" fill="#a5d1e0"/>
<text transform="translate(1335.00,1280.30) scale(1,1.05)" font-family="Liberation Sans, sans-serif" font-size="29.5" text-anchor="start" >Rast 11–15 %</text>
<rect x="1690.2" y="1259.2" width="22" height="21.8" fill="#52acc8"/>
<text transform="translate(1721.10,1280.30) scale(1,1.05)" font-family="Liberation Sans, sans-serif" font-size="29.5" text-anchor="start" >Rast 16–20 %</text>
<rect x="529.8" y="1312" width="22" height="21.8" fill="#2e849e"/>
<text transform="translate(560.70,1333.40) scale(1,1.05)" font-family="Liberation Sans, sans-serif" font-size="29.5" text-anchor="start" >Rast &gt;20 %</text>
<rect x="916.7" y="1312" width="22" height="21.8" fill="#f4e1e2"/>
<text transform="translate(947.60,1333.40) scale(1,1.05)" font-family="Liberation Sans, sans-serif" font-size="29.5" text-anchor="start" >Pokles 0–5 %</text>
<rect x="1304.1" y="1312" width="22" height="21.8" fill="#e8bfc0"/>
<text transform="translate(1335.00,1333.40) scale(1,1.05)" font-family="Liberation Sans, sans-serif" font-size="29.5" text-anchor="start" >Pokles 6–10 %</text>
<rect x="1690.2" y="1312" width="22" height="21.8" fill="#dd9a98"/>
<text transform="translate(1721.10,1333.40) scale(1,1.05)" font-family="Liberation Sans, sans-serif" font-size="29.5" text-anchor="start" >Pokles 11–15 %</text>
<rect x="529.8" y="1365.1" width="22" height="21.8" fill="#c44b48"/>
<text transform="translate(560.70,1386.80) scale(1,1.05)" font-family="Liberation Sans, sans-serif" font-size="29.5" text-anchor="start" >Pokles 16–20 %</text>
<rect x="916.7" y="1365.1" width="22" height="21.8" fill="#993330"/>
<text transform="translate(947.60,1386.80) scale(1,1.05)" font-family="Liberation Sans, sans-serif" font-size="29.5" text-anchor="start" >Pokles &gt;20 %</text>
<rect x="1304.1" y="1365.1" width="22" height="21.8" fill="#878382"/>
<text transform="translate(1335.00,1386.80) scale(1,1.05)" font-family="Liberation Sans, sans-serif" font-size="29.5" text-anchor="start" >Nevie</text>
<circle cx="1700.75" cy="1375.95" r="10.3" fill="#fff" stroke="#2b4580" stroke-width="5.4"/>
<text transform="translate(1721.10,1386.80) scale(1,1.05)" font-family="Liberation Sans, sans-serif" font-size="29.5" text-anchor="start" >Priemer</text>
</svg>
</body></html>
